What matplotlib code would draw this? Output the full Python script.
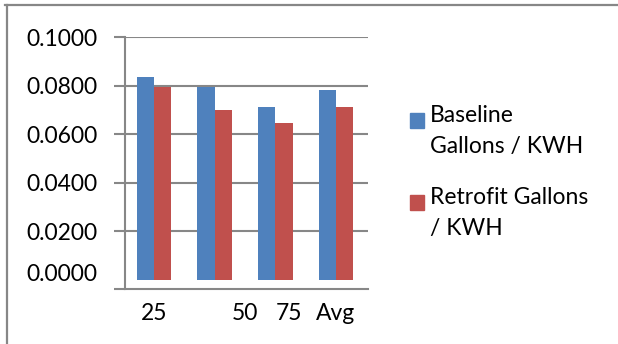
import matplotlib
matplotlib.use("Agg")
import matplotlib.pyplot as plt
import matplotlib.transforms as mtransforms
from matplotlib.patches import Rectangle
from matplotlib.lines import Line2D
import numpy as np

categories = ["25", "50", "75", "Avg"]
baseline = [0.0836, 0.0795, 0.0710, 0.0782]
retrofit = [0.0795, 0.0699, 0.0646, 0.0712]
series_names = ["Baseline\nGallons / KWH", "Retrofit Gallons\n/ KWH"]
colors = ["#4F81BD", "#C0504D"]
yticks = [0.0, 0.02, 0.04, 0.06, 0.08, 0.10]
label_shift_px = [0, 30, 14, 0]

plt.rcParams['font.family'] = ['Lato', 'DejaVu Sans']
FS = 16.5
W, H = 618, 344
fig = plt.figure(figsize=(W / 100, H / 100), dpi=100)
fig.patch.set_facecolor("white")

def px(x0, y0, x1, y1):
    return [x0 / W, 1 - y1 / H, (x1 - x0) / W, (y1 - y0) / H]

ax = fig.add_axes(px(125, 37, 368, 289))
x = np.arange(len(categories))
bw = 0.288
ax.bar(x - bw / 2, baseline, bw, color=colors[0], zorder=3)
ax.bar(x + bw / 2, retrofit, bw, color=colors[1], zorder=3)

ax.set_xlim(-0.478, 3.527)
ybot = -0.0039
ax.set_ylim(ybot, 0.1)

gray = "#878787"
for s in ["top", "right"]:
    ax.spines[s].set_visible(False)
for s in ["left", "bottom"]:
    ax.spines[s].set_color(gray)
    ax.spines[s].set_linewidth(1.5)
ax.spines["left"].set_zorder(4)

ax.set_yticks(yticks)
ax.set_yticklabels([f"{v:.4f}" for v in yticks], fontsize=FS)
ax.set_yticks([ybot], minor=True)
ax.tick_params(axis="y", which="both", length=11 * 0.72, width=1.5, color=gray, pad=12)
ax.yaxis.grid(True, color=gray, linewidth=1.5, zorder=1)
ax.set_axisbelow(True)
ticks = ax.yaxis.get_major_ticks()
ticks[0].tick1line.set_visible(False)
ticks[0].gridline.set_visible(False)
ticks[0].label1.set_transform(ticks[0].label1.get_transform() +
                              mtransforms.ScaledTranslation(0, 7 / 100, fig.dpi_scale_trans))

ax.set_xticks(x)
ax.set_xticklabels(categories, fontsize=FS)
ax.tick_params(axis="x", length=0, pad=10)
for lab, dx in zip(ax.get_xticklabels(), label_shift_px):
    lab.set_transform(lab.get_transform() +
                      mtransforms.ScaledTranslation(dx / 100, 0, fig.dpi_scale_trans))

# legend (manual, matching layout)
entry_top = [113, 195]
for name, col, ty in zip(series_names, colors, entry_top):
    fig.patches.append(Rectangle((410 / W, 1 - (ty + 15) / H), 14 / W, 15 / H,
                                 transform=fig.transFigure, color=col))
    fig.text(430 / W, 1 - (ty - 8) / H, name, fontsize=FS, va="top", ha="left",
             linespacing=1.6)

# outer border
fig.add_artist(Line2D([5 / W, 1], [1 - 5 / H, 1 - 5 / H], color=gray, lw=1.6,
                      transform=fig.transFigure))
fig.add_artist(Line2D([6.5 / W, 6.5 / W], [0, 1 - 5 / H], color=gray, lw=1.6,
                      transform=fig.transFigure))

fig.savefig("out.png", dpi=100)
